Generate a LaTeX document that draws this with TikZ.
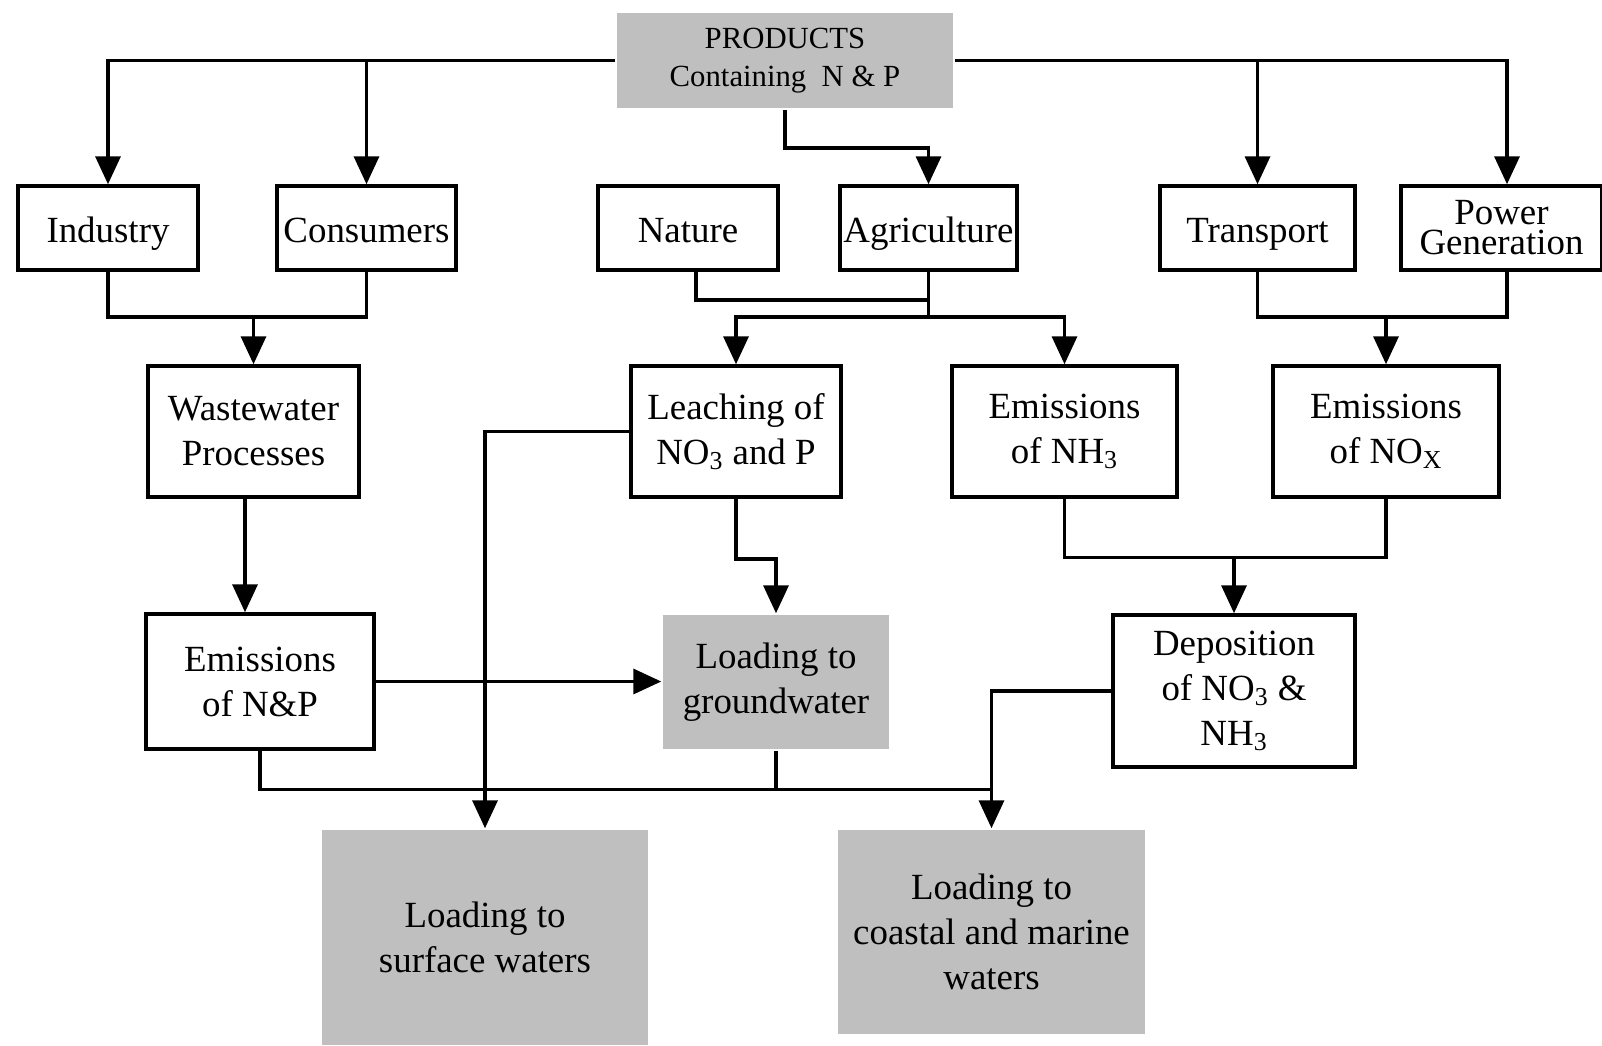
\documentclass[tikz,border=0pt]{standalone}
\usepackage{fontspec}
\setmainfont{Liberation Serif}
\usetikzlibrary{arrows.meta}

\begin{document}
\begin{tikzpicture}[x=0.02cm, y=-0.02cm, line width=2pt,
    >={Triangle[length=0.56cm, width=0.5cm]},
    box/.style={draw, fill=white, align=center, inner sep=0pt,
                font=\fontsize{21}{25.6}\selectfont},
    srcbox/.style={box, minimum height=1.68cm, text height=19pt, text depth=3pt},
    shade/.style={fill=black!25, align=center, inner sep=0pt,
                  font=\fontsize{21}{25.6}\selectfont}]
  \useasboundingbox (0,0) rectangle (1602,1045);

  % top
  \node[shade, minimum width=6.72cm, minimum height=1.9cm,
        font=\fontsize{17.5}{21.5}\selectfont] (prod) at (785,60.5)
    {PRODUCTS\\Containing~~N \& P};

  % sources
  \node[srcbox, minimum width=3.6cm] (ind) at (108,228) {Industry};
  \node[srcbox, minimum width=3.58cm] (con) at (366.5,228) {Consumers};
  \node[srcbox, minimum width=3.6cm] (nat) at (688,228) {Nature};
  \node[srcbox, minimum width=3.54cm] (agr) at (928.5,228) {Agriculture};
  \node[srcbox, minimum width=3.9cm] (tra) at (1257.5,228) {Transport};
  \node[box, minimum width=4.02cm, minimum height=1.68cm,
        font=\fontsize{21}{17}\selectfont] (pow) at (1501.5,228) {Power\\Generation};

  % processes
  \node[box, minimum width=4.22cm, minimum height=2.62cm] (wst) at (253.5,431.5)
    {Wastewater\\Processes};
  \node[box, minimum width=4.2cm, minimum height=2.62cm] (lea) at (736,431.5)
    {Leaching of\\NO\textsubscript{3} and P};
  \node[box, minimum width=4.5cm, minimum height=2.62cm] (nh3) at (1064.5,431.5)
    {Emissions\\of NH\textsubscript{3}};
  \node[box, minimum width=4.52cm, minimum height=2.62cm] (nox) at (1386,431.5)
    {Emissions\\of NO\textsubscript{X}};

  \node[box, minimum width=4.56cm, minimum height=2.7cm] (enp) at (260,681.5)
    {Emissions\\of N\&P};
  \node[shade, minimum width=4.52cm, minimum height=2.68cm] (gw) at (776,682)
    {Loading to\\groundwater};
  \node[box, minimum width=4.84cm, minimum height=3.04cm] (dep) at (1234,691)
    {Deposition\\of NO\textsubscript{3} \&\\NH\textsubscript{3}};

  % receiving waters
  \node[shade, minimum width=6.52cm, minimum height=4.3cm] (sw) at (485,937.5)
    {Loading to\\surface waters};
  \node[shade, minimum width=6.14cm, minimum height=4.08cm] (cw) at (991.5,932)
    {Loading to\\coastal and marine\\waters};

  \coordinate (j1) at (253.5,317);
  \coordinate (j2a) at (928.5,300);
  \coordinate (j2) at (928.5,317);
  \coordinate (j3) at (1386,317);
  \coordinate (j4) at (1234,557.5);
  \coordinate (j5) at (991.5,789.5);
  \coordinate (w1) at ([xshift=-0.17cm]wst.south);

  % connectors
  \draw[->] (prod.west) -| (ind.north);
  \draw[->] (prod.west -| con.north) -- (con.north);
  \draw[->] (prod.east) -| ([xshift=0.11cm]pow.north);
  \draw[->] (prod.east -| tra.north) -- (tra.north);
  \draw[->] (prod.south) -- ++(0,38) -| (agr.north);

  \draw (ind.south) |- (j1) -| (con.south);
  \draw[->] (j1) -- (wst.north);
  \draw ([xshift=0.16cm]nat.south) |- (j2a);
  \draw (agr.south) -- (j2);
  \draw[->] (j2) -| (lea.north);
  \draw[->] (j2) -| (nh3.north);
  \draw (tra.south) |- (j3) -| ([xshift=0.11cm]pow.south);
  \draw[->] (j3) -- (nox.north);

  \draw[->] (w1) -- (w1 |- enp.north);
  \draw[->] (enp.east) -- (enp.east -| gw.west);
  \draw[->] (lea.south) -- ++(0,60) -| (gw.north);
  \draw[->] (lea.west) -| (sw.north);
  \draw (nh3.south) |- (j4) -| (nox.south);
  \draw[->] (j4) -- (dep.north);
  \draw[->] (dep.west) -| (cw.north);
  \draw (enp.south) |- (j5);
  \draw (gw.south) -- (gw.south |- j5);
\end{tikzpicture}
\end{document}
